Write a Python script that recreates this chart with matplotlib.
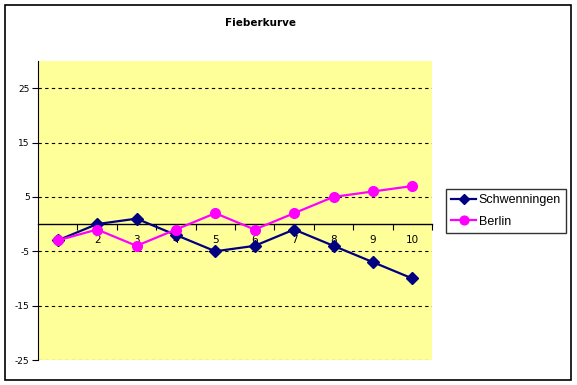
import matplotlib.pyplot as plt
from matplotlib.patches import Rectangle

# data
days = [1, 2, 3, 4, 5, 6, 7, 8, 9, 10]
schwenningen = [-3, 0, 1, -2, -5, -4, -1, -4, -7, -10]
berlin = [-3, -1, -4, -1, 2, -1, 2, 5, 6, 7]
y_ticks = [-25, -15, -5, 5, 15, 25]

fig = plt.figure(figsize=(5.77, 3.85), dpi=100)
fig.patch.set_facecolor('white')

# outer chart border
fig.patches.append(Rectangle((5 / 577, 5 / 385), 566 / 577, 375 / 385,
                             transform=fig.transFigure, fill=False,
                             edgecolor='black', lw=1.2))

ax = fig.add_axes([38 / 577, 25 / 385, 394 / 577, 299 / 385])
ax.set_facecolor('#FFFF99')

ax.plot(days, schwenningen, color='#000080', lw=1.6, marker='D', ms=6,
        label='Schwenningen', zorder=3)
ax.plot(days, berlin, color='#FF00FF', lw=1.6, marker='o', ms=7,
        label='Berlin', zorder=3)

ax.set_xlim(0.5, 10.5)
ax.set_ylim(-25, 30)

# y axis
ax.set_yticks(y_ticks)
ax.set_yticklabels([str(v) for v in y_ticks], fontsize=6.5)
ax.tick_params(axis='y', length=4, width=0.8, pad=2)
ax.yaxis.grid(True, linestyle=(0, (3, 3)), color='black', lw=0.8)

# category axis at y = 0
ax.spines['top'].set_visible(False)
ax.spines['right'].set_visible(False)
ax.spines['bottom'].set_position(('data', 0))
ax.spines['bottom'].set_linewidth(1.0)
ax.set_xticks([d + 0.5 for d in days])
ax.set_xticklabels([])
ax.set_xticks(days, minor=True)
ax.set_xticklabels([str(d) for d in days], minor=True, fontsize=7.5)
ax.tick_params(axis='x', which='major', length=4, width=0.8)
ax.tick_params(axis='x', which='minor', length=0, pad=8)
ax.set_axisbelow(True)

fig.text(261 / 577, 1 - 23 / 385, 'Fieberkurve', ha='center', va='center',
         fontsize=7.5, fontweight='bold')

leg = fig.legend(loc='center left', bbox_to_anchor=(446 / 577, 1 - 211 / 385),
                 prop={'family': 'Liberation Sans', 'size': 9},
                 frameon=True, fancybox=False, handlelength=2.0,
                 handletextpad=0.2, borderpad=0.4, borderaxespad=0,
                 labelspacing=0.75, markerscale=0.9)
leg.get_frame().set_edgecolor('black')
leg.get_frame().set_linewidth(1.0)

fig.savefig('out.png', dpi=100)
